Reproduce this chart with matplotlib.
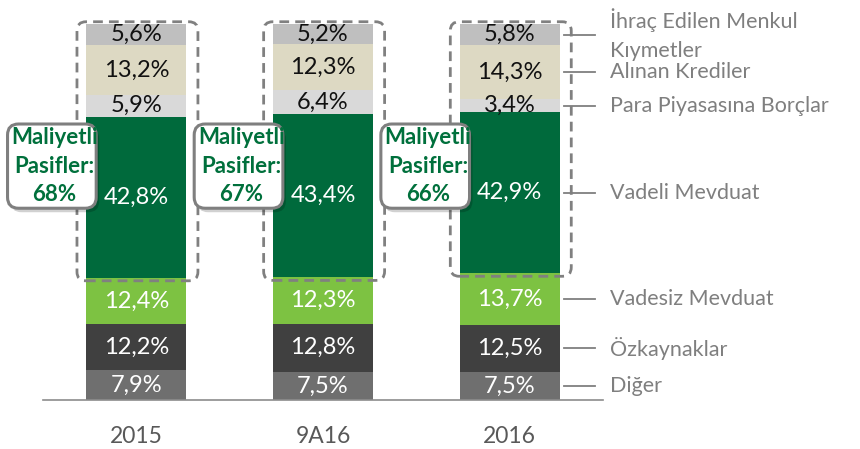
import matplotlib

matplotlib.use("Agg")
import matplotlib.pyplot as plt
import numpy as np
from matplotlib.patches import FancyBboxPatch

plt.rcParams["font.family"] = ["Lato", "DejaVu Sans"]

# Veri (alttan uste)
categories = ["2015", "9A16", "2016"]
series = ["Diğer", "Özkaynaklar", "Vadesiz Mevduat", "Vadeli Mevduat",
          "Para Piyasasına Borçlar", "Alınan Krediler",
          "İhraç Edilen Menkul\nKıymetler"]
values = [
    [7.9, 7.5, 7.5],
    [12.2, 12.8, 12.5],
    [12.4, 12.3, 13.7],
    [42.8, 43.4, 42.9],
    [5.9, 6.4, 3.4],
    [13.2, 12.3, 14.3],
    [5.6, 5.2, 5.8],
]
costly_share = [68, 67, 66]

colors = ["#6f6f6f", "#404040", "#7dc242", "#006a3c",
          "#d9d9d9", "#ddd9c3", "#bfbfbf"]
text_colors = ["white", "white", "white", "white", "#111111", "#111111", "#111111"]
green_text = "#00703c"

W, H = 860, 449
fig = plt.figure(figsize=(W / 100, H / 100), dpi=100)
ax_l, ax_r, ax_b, ax_t = 43, 603, 400, 24
ax = fig.add_axes([ax_l / W, 1 - ax_b / H, (ax_r - ax_l) / W, (ax_b - ax_t) / H])
ax.set_xlim(-0.5, 2.5)
ax.set_ylim(0, 100)

# data -> pixel olcekleri (kose yuvarlama icin)
px_x = (ax_r - ax_l) / 3.0
px_y = (ax_b - ax_t) / 100.0
aspect = px_x / px_y

x = np.arange(len(categories))
bar_w = 0.535
bottom = np.zeros(len(categories))
bottoms = []
for vals, c, tc in zip(values, colors, text_colors):
    vals = np.array(vals)
    ax.bar(x, vals, bar_w, bottom=bottom, color=c, zorder=2)
    for xi, b, v in zip(x, bottom, vals):
        ax.text(xi, b + v / 2, f"{v:.1f}%".replace(".", ","), ha="center",
                va="center", color=tc, fontsize=17, zorder=5)
    bottoms.append(bottom.copy())
    bottom = bottom + vals

# Kesikli kutular (maliyetli pasifler)
for xi in x:
    y0 = bottoms[3][xi] - 0.8
    y1 = 100.6
    r = 9 / px_x
    box = FancyBboxPatch((xi - 0.318, y0), 0.318 + 0.33, y1 - y0,
                         boxstyle=f"round,pad=0,rounding_size={r}",
                         mutation_aspect=aspect, fill=False,
                         edgecolor="#808080", lw=2.0,
                         linestyle=(0, (3.5, 2.2)), zorder=4, clip_on=False)
    ax.add_patch(box)

# Aciklama kutulari
for xi, share in zip(x, costly_share):
    cx0, cx1 = xi - 0.69, xi - 0.215
    cy0, cy1 = 51.0, 73.4
    r = 11 / px_x
    sh = FancyBboxPatch((cx0 + 3 / px_x, cy0 - 4 / px_y), cx1 - cx0, cy1 - cy0,
                        boxstyle=f"round,pad=0,rounding_size={r}",
                        mutation_aspect=aspect, facecolor="#000000",
                        alpha=0.18, edgecolor="none", zorder=6, clip_on=False)
    ax.add_patch(sh)
    cb = FancyBboxPatch((cx0, cy0), cx1 - cx0, cy1 - cy0,
                        boxstyle=f"round,pad=0,rounding_size={r}",
                        mutation_aspect=aspect, facecolor="white",
                        edgecolor="#7f7f7f", lw=2.2, zorder=7, clip_on=False)
    ax.add_patch(cb)
    cx = (cx0 + cx1) / 2
    cy = (cy0 + cy1) / 2
    for k, line in enumerate(["Maliyetli", "Pasifler:", f"{share}%"]):
        t = ax.text(cx + 0.015, cy + (1 - k) * 28.5 / px_y, line, ha="center",
                    va="center", color=green_text, fontsize=16,
                    fontweight="bold", zorder=8, clip_on=False)
        t.set_clip_path(cb)

# Sag taraf etiketleri (son cubuga gore)
last = x[-1]
for i, name in enumerate(series):
    yc = bottoms[i][last] + values[i][last] / 2
    ax.plot([last + 0.29, last + 0.455], [yc, yc], color="#7f7f7f", lw=1.3,
            zorder=5, clip_on=False)
    ax.text(last + 0.535, yc, name, ha="left", va="center", color="#7f7f7f",
            fontsize=15.5, linespacing=1.55, clip_on=False)

for s in ["top", "right", "left"]:
    ax.spines[s].set_visible(False)
ax.spines["bottom"].set_color("#8c8c8c")
ax.spines["bottom"].set_linewidth(1.2)
ax.set_yticks([])
ax.set_xticks(x)
ax.set_xticklabels(categories, fontsize=16.5, color="#595959")
ax.tick_params(axis="x", length=0, pad=19)

fig.savefig("out.png", dpi=100)
